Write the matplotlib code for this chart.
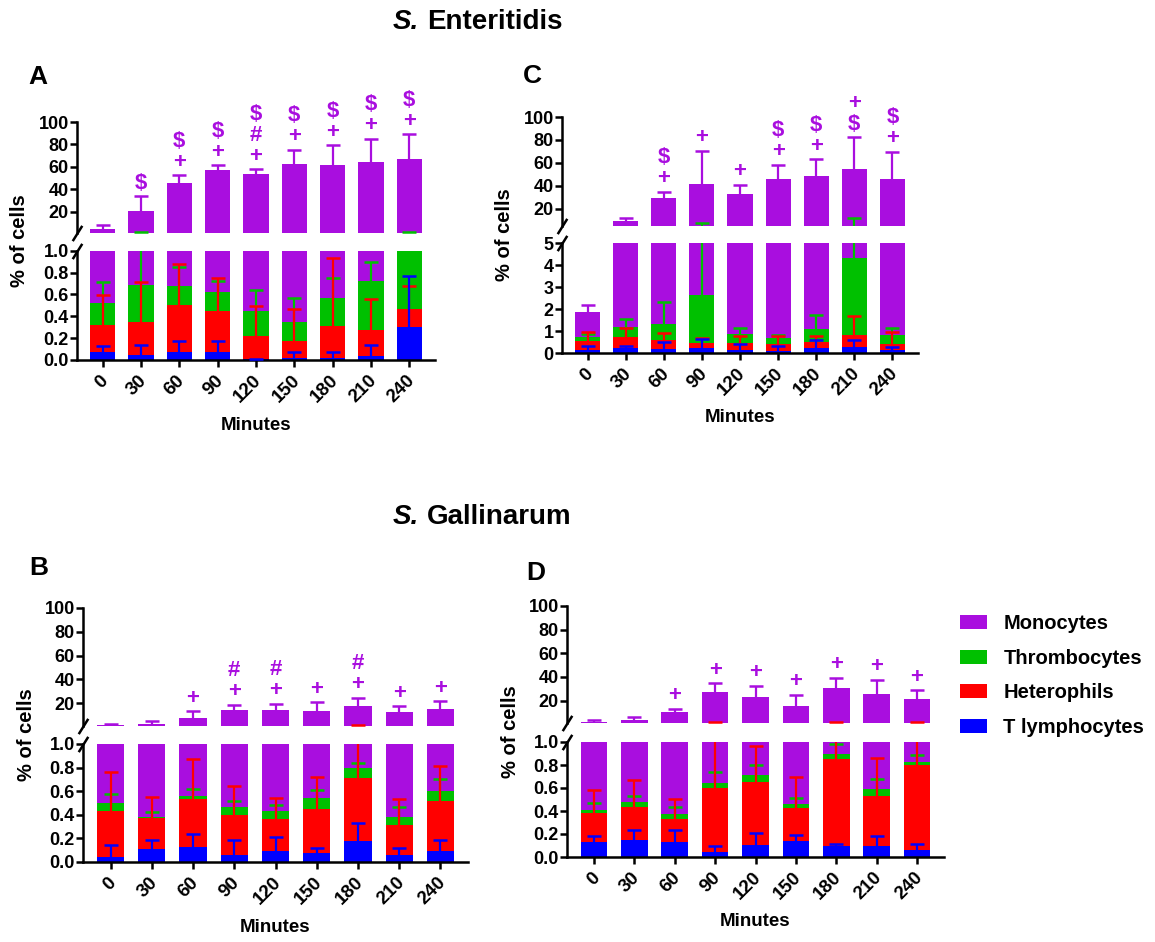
import numpy as np
import matplotlib
matplotlib.use("Agg")
import matplotlib.pyplot as plt
from matplotlib.patches import Patch
from matplotlib.transforms import ScaledTranslation

plt.rcParams['font.family'] = ['Liberation Sans', 'DejaVu Sans']
plt.rcParams['font.weight'] = 'bold'

minutes = ['0', '30', '60', '90', '120', '150', '180', '210', '240']
cell_types = ['T lymphocytes', 'Heterophils', 'Thrombocytes', 'Monocytes']
colors = ['#0000FF', '#FF0000', '#00C000', '#A90EDF']

# ---- A: S. Enteritidis (1) ----
a_tlym = [0.07, 0.05, 0.07, 0.07, 0.005, 0.02, 0.02, 0.04, 0.30]
a_het = [0.25, 0.30, 0.43, 0.38, 0.215, 0.15, 0.29, 0.23, 0.17]
a_thr = [0.20, 0.335, 0.175, 0.17, 0.225, 0.175, 0.26, 0.45, 0.53]
a_mono = [4.48, 19.9, 44.7, 56.7, 53.6, 62.4, 60.9, 63.8, 65.6]
a_tlym_sd = [0.06, 0.09, 0.10, 0.10, 0.0, 0.05, 0.05, 0.10, 0.47]
a_het_sd = [0.275, 0.365, 0.38, 0.30, 0.27, 0.30, 0.62, 0.29, 0.21]
a_thr_sd = [0.19, 0.82, 0.175, 0.10, 0.195, 0.225, 0.18, 0.18, 1.0]
a_mono_sd = [3.5, 13.1, 7.1, 4.2, 3.9, 12.5, 17.9, 20.5, 22.4]
a_marks = [[], ['$'], ['+', '$'], ['+', '$'], ['+', '#', '$'], ['+', '$'],
           ['+', '$'], ['+', '$'], ['+', '$']]

# ---- C: S. Enteritidis (2) ----
c_tlym = [0.12, 0.23, 0.17, 0.21, 0.14, 0.09, 0.23, 0.29, 0.12]
c_het = [0.43, 0.51, 0.41, 0.26, 0.33, 0.33, 0.29, 0.51, 0.30]
c_thr = [0.18, 0.43, 0.74, 2.17, 0.39, 0.28, 0.57, 3.53, 0.41]
c_mono = [1.15, 7.83, 27.68, 39.36, 31.94, 45.3, 47.91, 50.47, 45.47]
c_tlym_sd = [0.21, 0.10, 0.35, 0.43, 0.27, 0.23, 0.36, 0.29, 0.15]
c_het_sd = [0.40, 0.41, 0.34, 0.23, 0.30, 0.34, 0.24, 0.90, 0.53]
c_thr_sd = [0.13, 0.39, 1.00, 4.86, 0.29, 0.13, 0.65, 8.07, 0.29]
c_mono_sd = [0.32, 2.9, 5.8, 28.4, 8.1, 12.5, 14.2, 27.5, 23.5]
c_marks = [[], [], ['+', '$'], ['+'], ['+'], ['+', '$'], ['+', '$'],
           ['$', '+'], ['+', '$']]

# ---- B: S. Gallinarum (1) ----
b_tlym = [0.045, 0.11, 0.13, 0.062, 0.093, 0.076, 0.175, 0.06, 0.093]
b_het = [0.385, 0.26, 0.405, 0.333, 0.271, 0.37, 0.54, 0.25, 0.421]
b_thr = [0.07, 0.01, 0.025, 0.068, 0.071, 0.099, 0.082, 0.07, 0.086]
b_mono = [1.1, 2.12, 6.54, 13.94, 13.97, 12.46, 16.7, 12.02, 14.1]
b_tlym_sd = [0.095, 0.08, 0.105, 0.124, 0.117, 0.044, 0.155, 0.06, 0.093]
b_het_sd = [0.33, 0.18, 0.34, 0.252, 0.176, 0.277, 1.18, 0.227, 0.296]
b_thr_sd = [0.08, 0.04, 0.06, 0.057, 0.051, 0.065, 0.043, 0.086, 0.10]
b_mono_sd = [0.6, 2.5, 5.9, 4.2, 5.0, 7.6, 7.0, 4.8, 6.7]
b_marks = [[], [], ['+'], ['+', '#'], ['+', '#'], ['+'], ['+', '#'], ['+'], ['+']]

# ---- D: S. Gallinarum (2) ----
d_tlym = [0.128, 0.148, 0.128, 0.04, 0.107, 0.142, 0.093, 0.093, 0.058]
d_het = [0.255, 0.287, 0.20, 0.56, 0.545, 0.288, 0.757, 0.437, 0.742]
d_thr = [0.027, 0.043, 0.043, 0.046, 0.058, 0.034, 0.05, 0.065, 0.026]
d_mono = [1.19, 2.82, 9.63, 26.35, 22.29, 15.34, 29.3, 25.0, 20.27]
d_tlym_sd = [0.052, 0.084, 0.104, 0.06, 0.103, 0.052, 0.017, 0.093, 0.055]
d_het_sd = [0.197, 0.232, 0.179, 1.3, 0.316, 0.266, 1.05, 0.33, 1.1]
d_thr_sd = [0.057, 0.055, 0.067, 0.09, 0.09, 0.049, 0.086, 0.085, 0.061]
d_mono_sd = [1.7, 2.6, 3.2, 7.7, 9.4, 9.2, 9.3, 12.2, 7.6]
d_marks = [[], [], ['+'], ['+'], ['+'], ['+'], ['+'], ['+'], ['+']]

W, H = 1155, 942
fig = plt.figure(figsize=(W / 100, H / 100), dpi=100)


def px_axes(left, right, top, bottom):
    return fig.add_axes([left / W, 1 - bottom / H, (right - left) / W, (bottom - top) / H])


def up_errorbars(ax, x, top, sd, color, z):
    # one-sided (upper) SD bars like GraphPad; caps only where they fall inside the axis
    lo, hi = ax.get_ylim()
    cap = top + np.array(sd)
    ax.vlines(x, top, cap, colors=color, linewidth=1.6, zorder=z)
    keep = (cap > lo) & (cap <= hi * 1.01)
    ax.plot(x[keep], cap[keep], linestyle='none', marker='_', markersize=10,
            mew=1.8, color=color, zorder=z)


def draw_panel(box, upper_lim, lower_lim, lower_ticks, lower_fmt, means, sds, marks,
               letter, letter_xy):
    left, right, ut, ub, lt, lb = box
    ax_u = px_axes(left, right, ut, ub)
    ax_l = px_axes(left, right, lt, lb)
    ax_u.set_ylim(*upper_lim)
    ax_l.set_ylim(*lower_lim)
    x = np.arange(len(minutes))
    bottoms = np.zeros(len(minutes))
    tops = []
    for m, c in zip(means, colors):
        m = np.array(m)
        for ax in (ax_u, ax_l):
            ax.bar(x, m, width=0.66, bottom=bottoms, color=c, zorder=2)
        bottoms = bottoms + m
        tops.append(bottoms.copy())
    # lower cell types drawn on top
    for i in [3, 2, 1, 0]:
        for ax in (ax_u, ax_l):
            up_errorbars(ax, x, tops[i], sds[i], colors[i], 3 + (3 - i))
    # significance marks above monocyte error bars
    for xi, syms in enumerate(marks):
        yc = tops[3][xi] + sds[3][xi]
        for k, s in enumerate(syms):
            ax_u.annotate(s, (xi, yc), xytext=(0, 13 + 21 * k), textcoords='offset pixels',
                          ha='center', va='center', fontsize=16, color=colors[3],
                          fontweight='bold', annotation_clip=False)

    for ax in (ax_u, ax_l):
        ax.set_xlim(-0.67, len(minutes) - 0.33)
        ax.spines['top'].set_visible(False)
        ax.spines['right'].set_visible(False)
        for sp in ax.spines.values():
            sp.set_linewidth(1.8)
        ax.tick_params(axis='y', labelsize=13, width=1.8, length=5, pad=1)
        ax.set_facecolor('none')
    ax_u.spines['bottom'].set_visible(False)
    ax_u.tick_params(axis='x', bottom=False, labelbottom=False)
    ax_u.set_ylim(*upper_lim)
    ax_u.set_yticks([20, 40, 60, 80, 100])
    ax_l.set_ylim(*lower_lim)
    ax_l.set_yticks(lower_ticks)
    ax_l.set_yticklabels([lower_fmt.format(t) for t in lower_ticks])
    ax_l.set_xticks(x)
    ax_l.set_xticklabels(minutes, rotation=45, ha='right', va='center',
                         rotation_mode='anchor')
    ax_l.tick_params(axis='x', labelsize=13.5, width=1.8, length=5, pad=8)
    shift = ScaledTranslation(3 / 100, 0, fig.dpi_scale_trans)
    for lab in ax_l.get_xticklabels():
        lab.set_transform(lab.get_transform() + shift)

    # broken-axis marks
    kw = dict(marker=[(-1, -1.6), (1, 1.6)], markersize=11, linestyle='none',
              color='k', mec='k', mew=1.8, clip_on=False)
    ax_u.plot([0], [0], transform=ax_u.transAxes, **kw)
    ax_l.plot([0], [1], transform=ax_l.transAxes, **kw)

    # labels
    fig.text((left + right) / 2 / W, 1 - (lb + 65) / H, 'Minutes', ha='center',
             va='center', fontsize=13.5)
    fig.text((left - 57) / W, 1 - (ut + lb) / 2 / H, '% of cells', rotation=90,
             ha='center', va='center', fontsize=14.5)
    fig.text(letter_xy[0] / W, 1 - letter_xy[1] / H, letter, ha='left', va='center',
             fontsize=19)


draw_panel((77, 435, 122, 233, 250.7, 360), (1, 100), (0, 1),
           [0, 0.2, 0.4, 0.6, 0.8, 1.0], '{:.1f}',
           [a_tlym, a_het, a_thr, a_mono], [a_tlym_sd, a_het_sd, a_thr_sd, a_mono_sd],
           a_marks, 'A', (28, 77))
draw_panel((562, 918, 117, 226, 243, 353), (5, 100), (0, 5),
           [0, 1, 2, 3, 4, 5], '{:d}',
           [c_tlym, c_het, c_thr, c_mono], [c_tlym_sd, c_het_sd, c_thr_sd, c_mono_sd],
           c_marks, 'C', (523, 76))
draw_panel((83, 468, 608, 725.6, 744, 862), (1, 100), (0, 1),
           [0, 0.2, 0.4, 0.6, 0.8, 1.0], '{:.1f}',
           [b_tlym, b_het, b_thr, b_mono], [b_tlym_sd, b_het_sd, b_thr_sd, b_mono_sd],
           b_marks, 'B', (29, 568))
draw_panel((567, 944, 606, 723, 742, 857), (1, 100), (0, 1),
           [0, 0.2, 0.4, 0.6, 0.8, 1.0], '{:.1f}',
           [d_tlym, d_het, d_thr, d_mono], [d_tlym_sd, d_het_sd, d_thr_sd, d_mono_sd],
           d_marks, 'D', (526, 573))

# section titles
for title, ypx in [('Enteritidis', 22), ('Gallinarum', 517)]:
    fig.text(419 / W, 1 - ypx / H, 'S.', ha='right', va='center', fontsize=20,
             style='italic')
    fig.text(427 / W, 1 - ypx / H, title, ha='left', va='center', fontsize=20)

handles = [Patch(facecolor=colors[i], label=cell_types[i]) for i in [3, 2, 1, 0]]
fig.legend(handles=handles, loc='upper left', bbox_to_anchor=(960 / W, 1 - 614 / H),
           frameon=False, fontsize=14.5, handlelength=1.35, handleheight=0.7,
           handletextpad=0.8, labelspacing=0.78, borderpad=0, borderaxespad=0)

fig.savefig('out.png', dpi=100)
